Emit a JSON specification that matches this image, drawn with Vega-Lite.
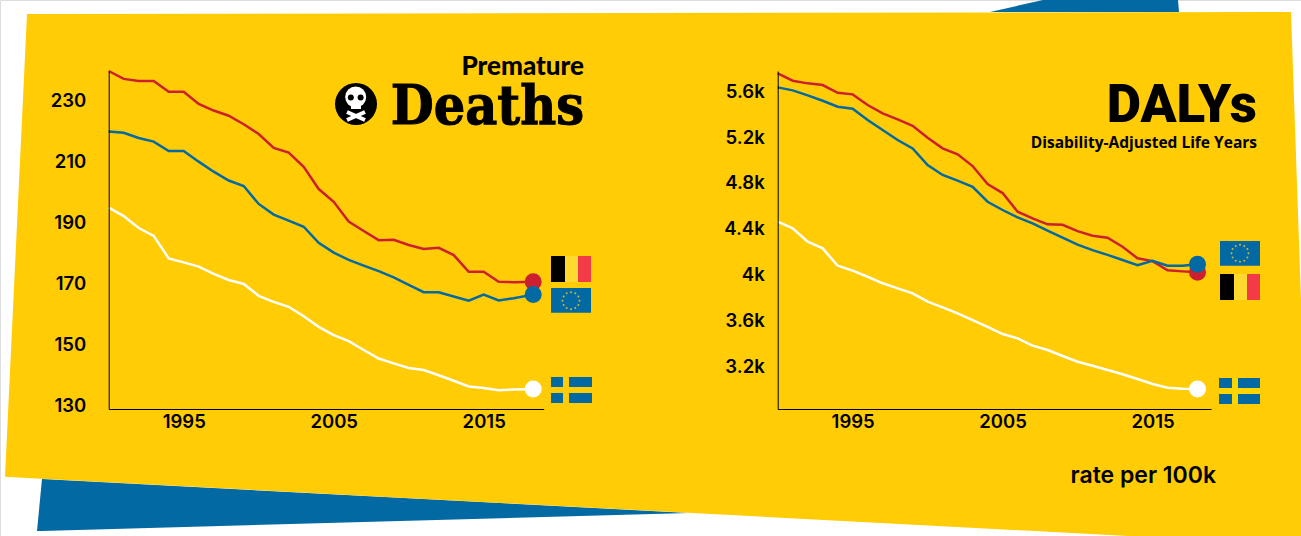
{"$schema":"https://vega.github.io/schema/vega-lite/v6.json","width":1301,"height":536,"padding":0,"autosize":"none","background":"#ffffff",
"datasets":{
"deaths":[
{"year":1990,"country":"Belgium","rate":239.5},{"year":1991,"country":"Belgium","rate":236.9},{"year":1992,"country":"Belgium","rate":236.2},{"year":1993,"country":"Belgium","rate":236.2},{"year":1994,"country":"Belgium","rate":232.7},{"year":1995,"country":"Belgium","rate":232.7},{"year":1996,"country":"Belgium","rate":228.7},{"year":1997,"country":"Belgium","rate":226.5},{"year":1998,"country":"Belgium","rate":224.8},{"year":1999,"country":"Belgium","rate":222},{"year":2000,"country":"Belgium","rate":218.8},{"year":2001,"country":"Belgium","rate":214.2},{"year":2002,"country":"Belgium","rate":212.7},{"year":2003,"country":"Belgium","rate":208},{"year":2004,"country":"Belgium","rate":200.7},{"year":2005,"country":"Belgium","rate":196.5},{"year":2006,"country":"Belgium","rate":190},{"year":2007,"country":"Belgium","rate":186.9},{"year":2008,"country":"Belgium","rate":183.9},{"year":2009,"country":"Belgium","rate":184},{"year":2010,"country":"Belgium","rate":182.3},{"year":2011,"country":"Belgium","rate":181},{"year":2012,"country":"Belgium","rate":181.4},{"year":2013,"country":"Belgium","rate":179},{"year":2014,"country":"Belgium","rate":173.5},{"year":2015,"country":"Belgium","rate":173.5},{"year":2016,"country":"Belgium","rate":170.2},{"year":2017,"country":"Belgium","rate":170.1},{"year":2018.3,"country":"Belgium","rate":170.2},
{"year":1990,"country":"EU","rate":219.6},{"year":1991,"country":"EU","rate":219.2},{"year":1992,"country":"EU","rate":217.5},{"year":1993,"country":"EU","rate":216.3},{"year":1994,"country":"EU","rate":213.2},{"year":1995,"country":"EU","rate":213.2},{"year":1996,"country":"EU","rate":209.7},{"year":1997,"country":"EU","rate":206.4},{"year":1998,"country":"EU","rate":203.5},{"year":1999,"country":"EU","rate":201.7},{"year":2000,"country":"EU","rate":195.8},{"year":2001,"country":"EU","rate":192.3},{"year":2002,"country":"EU","rate":190.3},{"year":2003,"country":"EU","rate":188.3},{"year":2004,"country":"EU","rate":183},{"year":2005,"country":"EU","rate":179.8},{"year":2006,"country":"EU","rate":177.4},{"year":2007,"country":"EU","rate":175.5},{"year":2008,"country":"EU","rate":173.7},{"year":2009,"country":"EU","rate":171.7},{"year":2010,"country":"EU","rate":169.2},{"year":2011,"country":"EU","rate":166.8},{"year":2012,"country":"EU","rate":166.8},{"year":2013,"country":"EU","rate":165.4},{"year":2014,"country":"EU","rate":164},{"year":2015,"country":"EU","rate":166},{"year":2016,"country":"EU","rate":164.1},{"year":2017,"country":"EU","rate":164.8},{"year":2018.3,"country":"EU","rate":166},
{"year":1990,"country":"Sweden","rate":194.6},{"year":1991,"country":"Sweden","rate":191.8},{"year":1992,"country":"Sweden","rate":187.9},{"year":1993,"country":"Sweden","rate":185.3},{"year":1994,"country":"Sweden","rate":177.9},{"year":1995,"country":"Sweden","rate":176.6},{"year":1996,"country":"Sweden","rate":175.2},{"year":1997,"country":"Sweden","rate":172.8},{"year":1998,"country":"Sweden","rate":170.8},{"year":1999,"country":"Sweden","rate":169.5},{"year":2000,"country":"Sweden","rate":165.6},{"year":2001,"country":"Sweden","rate":163.6},{"year":2002,"country":"Sweden","rate":162},{"year":2003,"country":"Sweden","rate":158.9},{"year":2004,"country":"Sweden","rate":155.4},{"year":2005,"country":"Sweden","rate":152.7},{"year":2006,"country":"Sweden","rate":150.7},{"year":2007,"country":"Sweden","rate":147.8},{"year":2008,"country":"Sweden","rate":145},{"year":2009,"country":"Sweden","rate":143.4},{"year":2010,"country":"Sweden","rate":141.9},{"year":2011,"country":"Sweden","rate":141.2},{"year":2012,"country":"Sweden","rate":139.5},{"year":2013,"country":"Sweden","rate":137.7},{"year":2014,"country":"Sweden","rate":135.8},{"year":2015,"country":"Sweden","rate":135.3},{"year":2016,"country":"Sweden","rate":134.6},{"year":2017,"country":"Sweden","rate":134.8},{"year":2018.3,"country":"Sweden","rate":135}
],
"dalys":[
{"year":1990,"country":"Belgium","rate":5748},{"year":1991,"country":"Belgium","rate":5683},{"year":1992,"country":"Belgium","rate":5660},{"year":1993,"country":"Belgium","rate":5645},{"year":1994,"country":"Belgium","rate":5578},{"year":1995,"country":"Belgium","rate":5564},{"year":1996,"country":"Belgium","rate":5471},{"year":1997,"country":"Belgium","rate":5398},{"year":1998,"country":"Belgium","rate":5346},{"year":1999,"country":"Belgium","rate":5290},{"year":2000,"country":"Belgium","rate":5185},{"year":2001,"country":"Belgium","rate":5093},{"year":2002,"country":"Belgium","rate":5040},{"year":2003,"country":"Belgium","rate":4938},{"year":2004,"country":"Belgium","rate":4781},{"year":2005,"country":"Belgium","rate":4702},{"year":2006,"country":"Belgium","rate":4539},{"year":2007,"country":"Belgium","rate":4481},{"year":2008,"country":"Belgium","rate":4429},{"year":2009,"country":"Belgium","rate":4425},{"year":2010,"country":"Belgium","rate":4370},{"year":2011,"country":"Belgium","rate":4329},{"year":2012,"country":"Belgium","rate":4312},{"year":2013,"country":"Belgium","rate":4233},{"year":2014,"country":"Belgium","rate":4132},{"year":2015,"country":"Belgium","rate":4108},{"year":2016,"country":"Belgium","rate":4027},{"year":2017,"country":"Belgium","rate":4018},{"year":2018,"country":"Belgium","rate":4010},
{"year":1990,"country":"EU","rate":5625},{"year":1991,"country":"EU","rate":5599},{"year":1992,"country":"EU","rate":5555},{"year":1993,"country":"EU","rate":5508},{"year":1994,"country":"EU","rate":5456},{"year":1995,"country":"EU","rate":5438},{"year":1996,"country":"EU","rate":5340},{"year":1997,"country":"EU","rate":5253},{"year":1998,"country":"EU","rate":5165},{"year":1999,"country":"EU","rate":5092},{"year":2000,"country":"EU","rate":4947},{"year":2001,"country":"EU","rate":4860},{"year":2002,"country":"EU","rate":4810},{"year":2003,"country":"EU","rate":4757},{"year":2004,"country":"EU","rate":4626},{"year":2005,"country":"EU","rate":4554},{"year":2006,"country":"EU","rate":4490},{"year":2007,"country":"EU","rate":4438},{"year":2008,"country":"EU","rate":4373},{"year":2009,"country":"EU","rate":4312},{"year":2010,"country":"EU","rate":4251},{"year":2011,"country":"EU","rate":4204},{"year":2012,"country":"EU","rate":4162},{"year":2013,"country":"EU","rate":4117},{"year":2014,"country":"EU","rate":4071},{"year":2015,"country":"EU","rate":4111},{"year":2016,"country":"EU","rate":4067},{"year":2017,"country":"EU","rate":4067},{"year":2018,"country":"EU","rate":4080},
{"year":1990,"country":"Sweden","rate":4452},{"year":1991,"country":"Sweden","rate":4394},{"year":1992,"country":"Sweden","rate":4277},{"year":1993,"country":"Sweden","rate":4219},{"year":1994,"country":"Sweden","rate":4067},{"year":1995,"country":"Sweden","rate":4024},{"year":1996,"country":"Sweden","rate":3971},{"year":1997,"country":"Sweden","rate":3914},{"year":1998,"country":"Sweden","rate":3870},{"year":1999,"country":"Sweden","rate":3826},{"year":2000,"country":"Sweden","rate":3753},{"year":2001,"country":"Sweden","rate":3704},{"year":2002,"country":"Sweden","rate":3652},{"year":2003,"country":"Sweden","rate":3593},{"year":2004,"country":"Sweden","rate":3534},{"year":2005,"country":"Sweden","rate":3471},{"year":2006,"country":"Sweden","rate":3433},{"year":2007,"country":"Sweden","rate":3369},{"year":2008,"country":"Sweden","rate":3331},{"year":2009,"country":"Sweden","rate":3279},{"year":2010,"country":"Sweden","rate":3229},{"year":2011,"country":"Sweden","rate":3194},{"year":2012,"country":"Sweden","rate":3156},{"year":2013,"country":"Sweden","rate":3119},{"year":2014,"country":"Sweden","rate":3078},{"year":2015,"country":"Sweden","rate":3034},{"year":2016,"country":"Sweden","rate":3002},{"year":2017,"country":"Sweden","rate":2993},{"year":2018,"country":"Sweden","rate":2990}
],
"backdrop":[
{"shape":"a-top","px":990,"top":12,"bottom":12},{"shape":"a-top","px":1043,"top":0,"bottom":12},{"shape":"a-top","px":1178,"top":0,"bottom":12},{"shape":"a-top","px":1179,"top":12,"bottom":12},
{"shape":"b-bottom","px":37,"top":531,"bottom":531},{"shape":"b-bottom","px":42,"top":479,"bottom":530.9},{"shape":"b-bottom","px":689,"top":513,"bottom":513},
{"shape":"c-card","px":5,"top":476.7,"bottom":476.7},{"shape":"c-card","px":27,"top":14,"bottom":477.9},{"shape":"c-card","px":1291,"top":12,"bottom":544.6},{"shape":"c-card","px":1301,"top":300,"bottom":545.2}
],
"flags":[
{"part":"black","a":551,"b":565,"c":256,"d":282},{"part":"gold","a":565,"b":578,"c":256,"d":282},{"part":"red","a":578,"b":591,"c":256,"d":282},
{"part":"blue","a":551,"b":591,"c":288,"d":312.7},
{"part":"blue","a":551,"b":563,"c":377,"d":387},{"part":"blue","a":569,"b":592,"c":377,"d":387},{"part":"blue","a":551,"b":563,"c":393,"d":403},{"part":"blue","a":569,"b":592,"c":393,"d":403},
{"part":"blue","a":1220,"b":1260,"c":241,"d":265.7},
{"part":"black","a":1220,"b":1234,"c":274,"d":300},{"part":"gold","a":1234,"b":1247,"c":274,"d":300},{"part":"red","a":1247,"b":1260,"c":274,"d":300},
{"part":"blue","a":1219,"b":1260,"c":378,"d":404},{"part":"cross","a":1232,"b":1238,"c":378,"d":404},{"part":"cross","a":1219,"b":1260,"c":388,"d":394},
{"part":"white","a":351,"b":361,"c":102,"d":109}
],
"stars":[
{"px":571,"py":292.2},{"px":575.3,"py":293.3},{"px":578.4,"py":296.5},{"px":579.5,"py":300.7},{"px":578.4,"py":305},{"px":575.3,"py":308.1},{"px":571,"py":309.2},{"px":566.7,"py":308.1},{"px":563.6,"py":305},{"px":562.5,"py":300.7},{"px":563.6,"py":296.5},{"px":566.7,"py":293.3},
{"px":1240,"py":244.8},{"px":1244.3,"py":245.9},{"px":1247.4,"py":249.1},{"px":1248.5,"py":253.3},{"px":1247.4,"py":257.6},{"px":1244.3,"py":260.7},{"px":1240,"py":261.8},{"px":1235.7,"py":260.7},{"px":1232.6,"py":257.6},{"px":1231.5,"py":253.3},{"px":1232.6,"py":249.1},{"px":1235.7,"py":245.9}
]
},
"resolve":{"scale":{"x":"independent","y":"independent","color":"independent","fill":"independent"},"axis":{"x":"independent","y":"independent"}},
"layer":[
{"encoding":{"x":{"field":"px","type":"quantitative","scale":{"domain":[0,1301],"range":[0,1301]},"axis":null},"y":{"field":"py","type":"quantitative","scale":{"domain":[0,536],"range":[0,536]},"axis":null}},
"layer":[
{"data":{"name":"backdrop"},"mark":{"type":"area","orient":"vertical","interpolate":"linear"},"encoding":{"y":{"field":"top","type":"quantitative"},"y2":{"field":"bottom"},"fill":{"field":"shape","type":"nominal","legend":null,"scale":{"domain":["a-top","b-bottom","c-card"],"range":["#0369A3","#0369A3","#FFCC05"]}}}},
{"data":{"values":[{"px":356,"py":104}]},"mark":{"type":"point","filled":true,"shape":"circle","size":1764,"color":"#000000","opacity":1}},
{"data":{"values":[{"px":355.7,"py":97}]},"mark":{"type":"point","filled":true,"shape":"circle","size":441,"color":"#ffffff","opacity":1}},
{"data":{"name":"flags"},"mark":{"type":"rect"},"encoding":{"x":{"field":"a","type":"quantitative"},"x2":{"field":"b"},"y":{"field":"c","type":"quantitative"},"y2":{"field":"d"},"color":{"field":"part","type":"nominal","legend":null,"scale":{"domain":["black","gold","red","blue","cross","white"],"range":["#000000","#FFD92E","#F23B47","#0369A3","#FFD500","#FFFFFF"]}}}},
{"data":{"name":"stars"},"mark":{"type":"point","filled":true,"shape":"circle","size":4,"color":"#C9B83A","opacity":1}},
{"data":{"values":[{"px":350.8,"py":97.5},{"px":360.6,"py":97.5}]},"mark":{"type":"point","filled":true,"shape":"circle","size":36,"color":"#000000","opacity":1}},
{"data":{"values":[{"px":347,"py":112,"px2":365,"py2":120},{"px":365,"py":112,"px2":347,"py2":120}]},"mark":{"type":"rule","strokeWidth":4,"color":"#ffffff"},"encoding":{"x2":{"field":"px2"},"y2":{"field":"py2"}}},
{"data":{"values":[{"px":584,"py":75,"label":"Premature"}]},"mark":{"type":"text","font":"Lato","fontWeight":900,"fontSize":26,"align":"right","baseline":"alphabetic","color":"#000000"},"encoding":{"text":{"field":"label"}}},
{"data":{"values":[{"px":584,"py":124,"label":"Deaths"}]},"mark":{"type":"text","font":"DejaVu Serif Condensed","fontWeight":"bold","fontSize":55,"align":"right","baseline":"alphabetic","color":"#000000","stroke":"#000000","strokeWidth":1},"encoding":{"text":{"field":"label"}}},
{"data":{"values":[{"px":1257,"py":122,"label":"DALYs"}]},"mark":{"type":"text","font":"Roboto","fontWeight":900,"fontSize":53,"align":"right","baseline":"alphabetic","color":"#000000"},"encoding":{"text":{"field":"label"}}},
{"data":{"values":[{"px":1257,"py":148,"label":"Disability-Adjusted Life Years"}]},"mark":{"type":"text","font":"Open Sans","fontWeight":700,"fontSize":15.5,"align":"right","baseline":"alphabetic","color":"#000000"},"encoding":{"text":{"field":"label"}}},
{"data":{"values":[{"px":1216,"py":483,"label":"rate per 100k"}]},"mark":{"type":"text","font":"Inter","fontWeight":600,"fontSize":23,"align":"right","baseline":"alphabetic","color":"#000000"},"encoding":{"text":{"field":"label"}}}
]},
{"data":{"name":"deaths"},
"encoding":{"x":{"field":"year","type":"quantitative","scale":{"domain":[1990,2019],"range":[108.7,543.7],"nice":false,"zero":false},"axis":{"zindex":1,"orient":"bottom","offset":-127,"values":[1995,2005,2015],"format":"d","title":null,"grid":false,"ticks":false,"labelPadding":3,"labelFont":"Inter","labelFontWeight":600,"labelFontSize":18.5,"labelColor":"#000000","domainColor":"#000000","domainWidth":1}},
"y":{"field":"rate","type":"quantitative","scale":{"domain":[128.4,239.5],"range":[409,71],"nice":false,"zero":false},"axis":{"zindex":1,"orient":"left","offset":-108.7,"values":[130,150,170,190,210,230],"title":null,"grid":false,"ticks":false,"labelPadding":23,"labelOffset":1,"labelFont":"Inter","labelFontWeight":600,"labelFontSize":18.5,"labelColor":"#000000","domainColor":"#000000","domainWidth":1}},
"color":{"field":"country","type":"nominal","legend":null,"scale":{"domain":["Belgium","EU","Sweden"],"range":["#CC2030","#0369A3","#FFFFFF"]}}},
"layer":[{"mark":{"type":"line","strokeWidth":2.5,"clip":false}},{"transform":[{"filter":"datum.year>2018"}],"mark":{"type":"point","filled":true,"shape":"circle","size":289,"opacity":1}}]},
{"data":{"name":"dalys"},
"encoding":{"x":{"field":"year","type":"quantitative","scale":{"domain":[1990,2018.9],"range":[777.7,1211],"nice":false,"zero":false},"axis":{"zindex":1,"orient":"bottom","offset":-127,"values":[1995,2005,2015],"format":"d","title":null,"grid":false,"ticks":false,"labelPadding":3,"labelFont":"Inter","labelFontWeight":600,"labelFontSize":18.5,"labelColor":"#000000","domainColor":"#000000","domainWidth":1}},
"y":{"field":"rate","type":"quantitative","scale":{"domain":[2816,5768],"range":[409,71],"nice":false,"zero":false},"axis":{"zindex":1,"orient":"left","offset":-777.7,"values":[3200,3600,4000,4400,4800,5200,5600],"labelExpr":"(datum.value/1000)+'k'","title":null,"grid":false,"ticks":false,"labelPadding":13.5,"labelOffset":1,"labelFont":"Inter","labelFontWeight":600,"labelFontSize":18.5,"labelColor":"#000000","domainColor":"#000000","domainWidth":1}},
"color":{"field":"country","type":"nominal","legend":null,"scale":{"domain":["Belgium","EU","Sweden"],"range":["#CC2030","#0369A3","#FFFFFF"]}}},
"layer":[{"mark":{"type":"line","strokeWidth":2.5,"clip":false}},{"transform":[{"filter":"datum.year>=2018"}],"mark":{"type":"point","filled":true,"shape":"circle","size":289,"opacity":1}}]}
]}
